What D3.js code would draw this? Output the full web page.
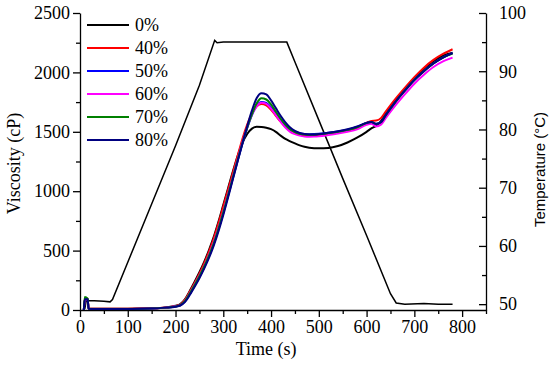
<!DOCTYPE html>
<html>
<head>
<meta charset="utf-8">
<title>Viscosity and temperature vs time</title>
<script src="https://d3js.org/d3.v7.min.js"></script>
<style>
  body { margin: 0; background: #fff; }
  .axis path, .axis line { stroke: #000; stroke-width: 1.3; }
</style>
</head>
<body>
<div id="chart"></div>
<script>
// time points (s) shared by all viscosity curves
var times = [8, 10, 16, 18, 30, 60, 100, 150, 180, 200,
  210, 220, 230, 240, 250, 260, 270, 280, 290, 300,
  310, 320, 330, 340, 350, 360, 370, 380, 390, 400,
  410, 420, 430, 440, 450, 460, 470, 480, 490, 500,
  520, 540, 560, 580, 600, 610, 620, 630, 640, 660,
  680, 700, 720, 740, 760, 780];

// viscosity (cP) per starch level
var visc0 = [0, 80, 80, 12, 10, 10, 10, 14, 22, 36,
  50, 92, 162, 238, 318, 405, 505, 615, 745, 885,
  1025, 1165, 1295, 1405, 1482, 1527, 1543, 1541, 1534, 1522,
  1500, 1468, 1440, 1420, 1402, 1386, 1374, 1366, 1362, 1361,
  1364, 1380, 1410, 1450, 1500, 1528, 1550, 1590, 1650, 1760,
  1860, 1950, 2030, 2095, 2140, 2165];
var visc40 = [0, 95, 95, 12, 10, 10, 10, 14, 22, 34,
  46, 88, 155, 228, 305, 392, 492, 602, 732, 872,
  1012, 1155, 1298, 1440, 1560, 1655, 1715, 1735, 1722, 1685,
  1635, 1585, 1540, 1508, 1488, 1476, 1470, 1468, 1470, 1473,
  1482, 1492, 1508, 1530, 1575, 1592, 1595, 1615, 1670, 1775,
  1870, 1960, 2040, 2105, 2155, 2195];
var visc50 = [0, 92, 92, 10, 8, 8, 9, 12, 20, 30,
  40, 72, 135, 205, 278, 360, 452, 556, 680, 815,
  960, 1108, 1255, 1400, 1530, 1640, 1720, 1750, 1742, 1705,
  1650, 1598, 1552, 1520, 1500, 1488, 1482, 1480, 1481, 1483,
  1492, 1503, 1518, 1540, 1575, 1583, 1568, 1582, 1640, 1750,
  1848, 1938, 2012, 2077, 2127, 2162];
var visc60 = [0, 88, 88, 10, 8, 8, 9, 12, 20, 31,
  42, 80, 145, 215, 290, 372, 467, 572, 697, 832,
  977, 1124, 1270, 1413, 1540, 1645, 1715, 1745, 1735, 1695,
  1640, 1585, 1535, 1500, 1480, 1468, 1461, 1459, 1460, 1463,
  1473, 1485, 1500, 1520, 1560, 1568, 1545, 1560, 1615, 1720,
  1815, 1905, 1980, 2045, 2092, 2124];
var visc70 = [0, 110, 95, 10, 8, 8, 9, 12, 20, 30,
  41, 76, 140, 210, 284, 366, 458, 562, 687, 822,
  967, 1115, 1262, 1405, 1535, 1648, 1740, 1782, 1772, 1730,
  1670, 1610, 1560, 1522, 1498, 1484, 1477, 1475, 1476, 1479,
  1489, 1500, 1516, 1538, 1574, 1582, 1566, 1580, 1638, 1748,
  1846, 1936, 2010, 2075, 2125, 2158];
var visc80 = [0, 90, 90, 10, 8, 8, 9, 12, 20, 28,
  38, 68, 128, 196, 268, 348, 438, 542, 664, 800,
  948, 1100, 1252, 1400, 1545, 1680, 1785, 1825, 1815, 1765,
  1700, 1635, 1580, 1537, 1508, 1490, 1481, 1478, 1478, 1481,
  1492, 1505, 1522, 1545, 1575, 1582, 1565, 1580, 1640, 1750,
  1845, 1935, 2010, 2075, 2125, 2162];

var seriesNames = ["0%", "40%", "50%", "60%", "70%", "80%"];
var seriesColors = ["#000000", "#ff0000", "#0000ff", "#ff00ff", "#008000", "#000080"];
var seriesValues = [visc0, visc40, visc50, visc60, visc70, visc80];

// temperature profile (s, °C)
var tempTimes = [10, 13, 30, 50, 63, 68, 100, 150, 200, 250, 282, 287, 300, 350, 400, 433,
  450, 500, 550, 600, 650, 662, 680, 720, 750, 780];
var tempValues = [49.2, 50.6, 50.6, 50.5, 50.4, 50.8, 57.2, 67.2, 77.2, 87.6, 95.3, 94.9, 95.0, 95.0, 95.0, 95.0,
  91.6, 81.6, 71.6, 61.8, 51.8, 50.2, 50.0, 50.1, 50.0, 50.0];

var xTicks = [0, 100, 200, 300, 400, 500, 600, 700, 800];
var yTicks = [0, 500, 1000, 1500, 2000, 2500];
var y2Ticks = [50, 60, 70, 80, 90, 100];

var serif = "'Liberation Serif', 'Times New Roman', serif";
var margin = { top: 13, right: 64, bottom: 55, left: 80 };
var W = 550, H = 365;
var width = W - margin.left - margin.right;
var height = H - margin.top - margin.bottom;

var svg = d3.select("#chart").append("svg")
  .attr("width", W)
  .attr("height", H);
var g = svg.append("g")
  .attr("transform", "translate(" + margin.left + "," + margin.top + ")");

var x = d3.scaleLinear().domain([0, 850]).range([0, width]);
var y = d3.scaleLinear().domain([0, 2500]).range([height, 0]);
var y2 = d3.scaleLinear().domain([49, 100]).range([height, 0]);

function minorTicks(sel, axisFn, vals, size) {
  sel.call(axisFn.tickValues(vals).tickSize(size).tickFormat(""));
  sel.select(".domain").remove();
}

// minor ticks
minorTicks(g.append("g").attr("class", "axis").attr("transform", "translate(0," + height + ")"),
  d3.axisBottom(x), d3.range(50, 851, 100), 4);
minorTicks(g.append("g").attr("class", "axis"),
  d3.axisLeft(y), d3.range(250, 2500, 500), 4);
minorTicks(g.append("g").attr("class", "axis").attr("transform", "translate(" + width + ",0)"),
  d3.axisLeft(y2), d3.range(55, 100, 10), 4);

// major axes
var fmt = d3.format("d");
g.append("g").attr("class", "axis")
  .attr("transform", "translate(0," + height + ")")
  .call(d3.axisBottom(x).tickValues(xTicks).tickFormat(fmt).tickSize(7).tickPadding(3).tickSizeOuter(0));
g.append("g").attr("class", "axis")
  .call(d3.axisLeft(y).tickValues(yTicks).tickFormat(fmt).tickSize(7).tickPadding(3).tickSizeOuter(0));
var y2Axis = g.append("g").attr("class", "axis")
  .attr("transform", "translate(" + width + ",0)")
  .call(d3.axisRight(y2).tickValues(y2Ticks).tickFormat(fmt).tickSize(7).tickPadding(6).tickSizeOuter(0));
y2Axis.selectAll(".tick line").attr("x2", -7);

g.selectAll(".axis text")
  .style("font-family", serif)
  .style("font-size", "18px")
  .attr("fill", "#000");

// temperature line
var tempData = tempTimes.map(function (t, i) { return [t, tempValues[i]]; });
g.append("path")
  .datum(tempData)
  .attr("fill", "none")
  .attr("stroke", "#000")
  .attr("stroke-width", 1.5)
  .attr("d", d3.line()
    .x(function (d) { return x(d[0]); })
    .y(function (d) { return y2(d[1]); }));

// viscosity lines
var viscLine = d3.line()
  .curve(d3.curveMonotoneX)
  .x(function (d) { return x(d[0]); })
  .y(function (d) { return y(d[1]); });

seriesValues.forEach(function (vals, i) {
  var data = times.map(function (t, j) { return [t, vals[j]]; });
  g.append("path")
    .datum(data)
    .attr("fill", "none")
    .attr("stroke", seriesColors[i])
    .attr("stroke-width", 2)
    .attr("d", viscLine);
});

// legend
var legend = g.append("g").attr("transform", "translate(7,12)");
seriesNames.forEach(function (name, i) {
  var row = legend.append("g").attr("transform", "translate(0," + (i * 23) + ")");
  row.append("line")
    .attr("x1", 0).attr("x2", 42)
    .attr("y1", 0).attr("y2", 0)
    .attr("stroke", seriesColors[i])
    .attr("stroke-width", 2);
  row.append("text")
    .attr("x", 48).attr("y", 6)
    .style("font-family", serif)
    .style("font-size", "18px")
    .text(name);
});

// axis titles
svg.append("text")
  .attr("transform", "translate(" + (margin.left + x(400) - 5) + "," + 355 + ")")
  .style("text-anchor", "middle")
  .style("font-family", serif)
  .style("font-size", "18px")
  .text("Time (s)");

svg.append("text")
  .attr("transform", "translate(20," + (margin.top + height / 2 + 2) + ") rotate(-90)")
  .style("text-anchor", "middle")
  .style("font-family", serif)
  .style("font-size", "18px")
  .text("Viscosity (cP)");

svg.append("text")
  .attr("transform", "translate(545," + (margin.top + height / 2 + 8) + ") rotate(-90)")
  .style("text-anchor", "middle")
  .style("font-family", "'Liberation Sans', Arial, sans-serif")
  .style("font-size", "15px")
  .text("Temperature (°C)");
</script>
</body>
</html>
